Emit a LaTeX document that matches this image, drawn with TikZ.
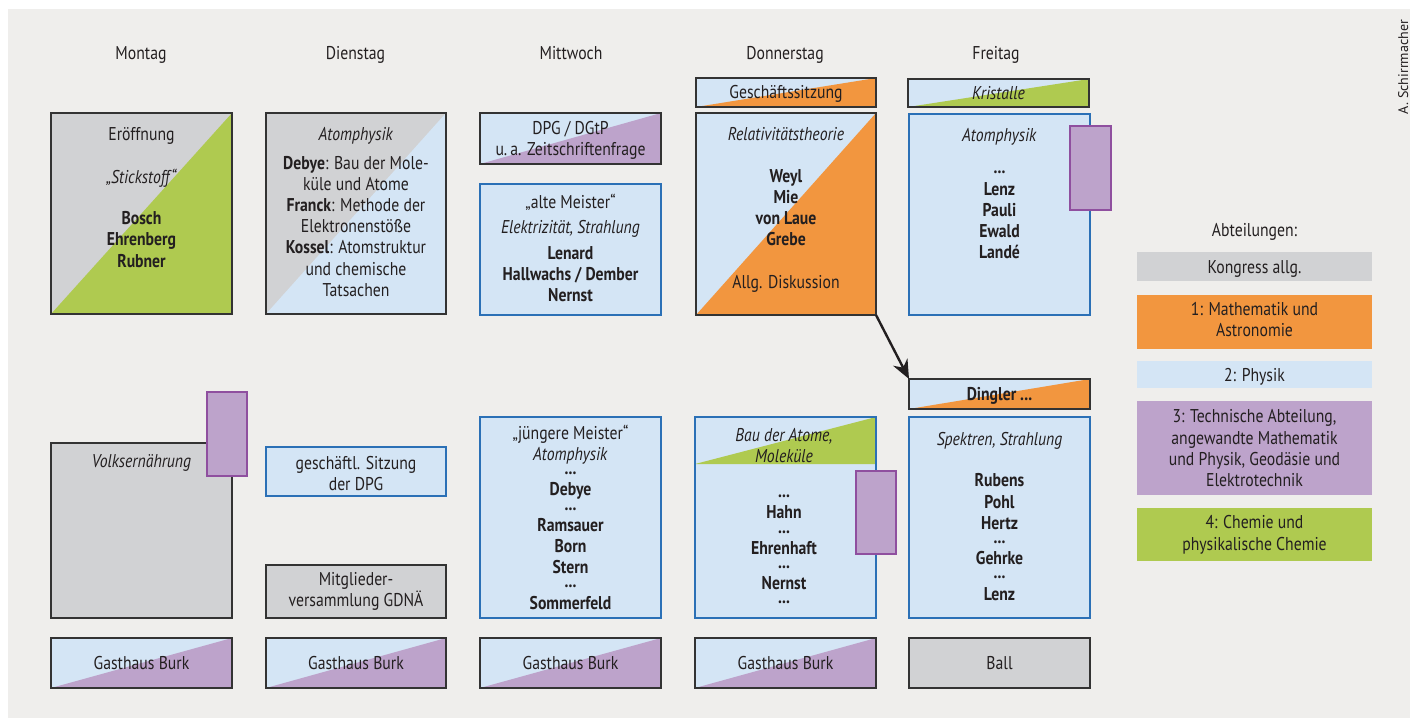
\documentclass[tikz,border=0pt]{standalone}
\usepackage{fontspec}
\setmainfont{PT Sans}[FakeStretch=0.85]
\newfontfamily\creditfont{PT Sans}
\usetikzlibrary{arrows.meta}

\definecolor{bgpanel}{HTML}{EFEEEC}
\definecolor{cgray}{HTML}{D1D2D4}
\definecolor{cgreen}{HTML}{AFCA50}
\definecolor{corange}{HTML}{F2963F}
\definecolor{cblue}{HTML}{D4E5F5}
\definecolor{cpurple}{HTML}{BDA3CB}
\definecolor{cblueline}{HTML}{2B70B6}
\definecolor{cpurpleline}{HTML}{8F4F9F}
\definecolor{cdark}{HTML}{333333}
\definecolor{ctext}{HTML}{231F20}

% fixes the height of the first line of a text block
\newcommand\lnstrut{\rule{0pt}{19pt}}

\tikzset{
  sz/.style n args={2}{minimum width=#1pt, minimum height=#2pt},
  box/.style={draw=cdark, line width=1.5pt, anchor=north west, inner sep=0pt, outer sep=0pt},
  bluebox/.style={box, draw=cblueline, fill=cblue},
  legbox/.style={anchor=north west, inner sep=0pt, outer sep=0pt},
  tagbox/.style={fill=cpurple, draw=cpurpleline, line width=1.3pt, anchor=north west, inner sep=0pt, outer sep=0pt},
  split/.style={path picture={\fill[#1] (path picture bounding box.south west) -- (path picture bounding box.north east) |- cycle;}},
  txt/.style={align=center, inner sep=0pt, text=ctext, font=\fontsize{18.5}{21.2}\selectfont},
  lines/.style={txt, anchor=north},
  one/.style={txt, anchor=base},
}

\begin{document}
\begin{tikzpicture}[x=1pt, y=-1pt]
\useasboundingbox (0,0) rectangle (1410,718);
\fill[white] (0,0) rectangle (1410,718);
\fill[bgpanel] (8,9) rectangle (1410,718);

% day headings
\node[one] (hmo) at (141,59) {Montag};
\node[one] (hdi) at (355.5,59) {Dienstag};
\node[one] (hmi) at (571,59) {Mittwoch};
\node[one] (hdo) at (785,59) {Donnerstag};
\node[one] (hfr) at (996,59) {Freitag};

% Montag
\node[box, fill=cgray, split=cgreen, sz={181}{201}] (mo1) at (51,113) {};
\node[lines] (mo1t) at (141.5,121) {\lnstrut Eröffnung\\[22.5pt]\textit{„Stickstoff“}\\[19.5pt]\textbf{Bosch}\\\textbf{Ehrenberg}\\\textbf{Rubner}};
\node[box, fill=cgray, sz={181}{175}] (mo2) at (51,443) {};
\node[lines] (mo2t) at (141.5,448) {\lnstrut\textit{Volksernährung}};
\node[tagbox, sz={40}{84}] (mo2tag) at (207,392) {};
\node[box, fill=cblue, split=cpurple, sz={181}{50}] (mo3) at (51,638) {};
\node[one] (mo3t) at (141.5,669) {Gasthaus Burk};

% Dienstag
\node[box, fill=cgray, split=cblue, sz={180}{201}] (di1) at (266,113) {};
\node[lines] (di1t) at (356,121) {\lnstrut\textit{Atomphysik}\\[7.7pt]\textbf{Debye}: Bau der Mole-\\küle und Atome\\\textbf{Franck}: Methode der\\Elektronenstöße\\\textbf{Kossel}: Atomstruktur\\und chemische\\Tatsachen};
\node[bluebox, sz={180}{49}] (di2) at (266,447) {};
\node[lines] (di2t) at (356,450) {\lnstrut geschäftl. Sitzung\\der DPG};
\node[box, fill=cgray, sz={180}{53}] (di3) at (266,565) {};
\node[lines] (di3t) at (356,566) {\lnstrut Mitglieder-\\versammlung GDNÄ};
\node[box, fill=cblue, split=cpurple, sz={180}{50}] (di4) at (266,638) {};
\node[one] (di4t) at (356,669) {Gasthaus Burk};

% Mittwoch
\node[box, fill=cblue, split=cpurple, sz={181}{51}] (mi1) at (480,113) {};
\node[lines] (mi1t) at (570.5,115) {\lnstrut DPG / DGtP\\u.\,a. Zeitschriftenfrage};
\node[bluebox, sz={181}{131}] (mi2) at (480,184) {};
\node[lines] (mi2t) at (570.5,189) {\lnstrut„alte Meister“\\[3.7pt]\textit{Elektrizität, Strahlung}\\[4.7pt]\textbf{Lenard}\\\textbf{Hallwachs / Dember}\\\textbf{Nernst}};
\node[bluebox, sz={181}{201}] (mi3) at (480,417) {};
\node[lines] (mi3t) at (570.5,420) {\lnstrut„jüngere Meister“\\\textit{Atomphysik}\\[-7pt]\textbf{...}\\\textbf{Debye}\\[-7pt]\textbf{...}\\\textbf{Ramsauer}\\\textbf{Born}\\\textbf{Stern}\\[-7pt]\textbf{...}\\\textbf{Sommerfeld}};
\node[box, fill=cblue, split=cpurple, sz={181}{50}] (mi4) at (480,638) {};
\node[one] (mi4t) at (570.5,669) {Gasthaus Burk};

% Donnerstag
\node[box, fill=cblue, split=corange, sz={180}{29}] (do0) at (696,78) {};
\node[one] (do0t) at (786,98) {Geschäftssitzung};
\node[box, fill=cblue, split=corange, sz={180}{202}] (do1) at (696,113) {};
\node[lines] (do1t) at (786,121) {\lnstrut\textit{Relativitätstheorie}\\[20.7pt]\textbf{Weyl}\\\textbf{Mie}\\\textbf{von Laue}\\\textbf{Grebe}\\[21.7pt]Allg. Diskussion};
\node[bluebox, sz={181}{201},
  path picture={\fill[cgreen] ([yshift=-47pt]path picture bounding box.north west) -- (path picture bounding box.north east) -- ([yshift=-47pt]path picture bounding box.north east) -- cycle;}] (do2) at (695,417) {};
\node[lines] (do2t) at (784,422) {\lnstrut\textit{Bau der Atome,}\\\textit{Moleküle}\\[14pt]\textbf{...}\\\textbf{Hahn}\\[-7pt]\textbf{...}\\\textbf{Ehrenhaft}\\[-7pt]\textbf{...}\\\textbf{Nernst}\\[-7pt]\textbf{...}};
\node[tagbox, sz={40}{83}] (do2tag) at (856,471) {};
\node[box, fill=cblue, split=cpurple, sz={181}{50}] (do3) at (695,638) {};
\node[one] (do3t) at (785.5,669) {Gasthaus Burk};

% Freitag
\node[box, fill=cblue, split=cgreen, sz={181}{28}] (fr0) at (908,79) {};
\node[one] (fr0t) at (998.5,99) {\textit{Kristalle}};
\node[bluebox, sz={181}{201}] (fr1) at (909,114) {};
\node[lines] (fr1t) at (999.5,122) {\lnstrut\textit{Atomphysik}\\[11.4pt]\textbf{...}\\\textbf{Lenz}\\\textbf{Pauli}\\\textbf{Ewald}\\\textbf{Landé}};
\node[tagbox, sz={41}{84}] (fr1tag) at (1070,126) {};
\node[box, fill=cblue, split=corange, sz={181}{30}] (fr2) at (909,379) {};
\node[one] (fr2t) at (999.5,400) {\textbf{Dingler ...}};
\node[bluebox, sz={181}{201}] (fr3) at (909,417) {};
\node[lines] (fr3t) at (999.5,426) {\lnstrut\textit{Spektren, Strahlung}\\[20.4pt]\textbf{Rubens}\\\textbf{Pohl}\\\textbf{Hertz}\\[-7pt]\textbf{...}\\\textbf{Gehrke}\\[-7pt]\textbf{...}\\\textbf{Lenz}};
\node[box, fill=cgray, sz={181}{50}] (fr4) at (909,638) {};
\node[one] (fr4t) at (999.5,669) {Ball};

% the discussion continues in the Friday session
\draw[-{Stealth[length=19pt,width=16pt]}, line width=2.4pt, draw=ctext] (do1.south east) -- (fr2.north west);

% legend of the sections
\node[one] (lgh) at (1254.5,236) {Abteilungen:};
\node[legbox, fill=cgray, sz={235}{29}] (lg0) at (1137,252) {};
\node[one] (lg0t) at (1254.5,273) {Kongress allg.};
\node[legbox, fill=corange, sz={235}{54}] (lg1) at (1137,295) {};
\node[lines] (lg1t) at (1254.5,296) {\lnstrut 1: Mathematik und\\Astronomie};
\node[legbox, fill=cblue, sz={235}{27}] (lg2) at (1137,361) {};
\node[one] (lg2t) at (1254.5,381) {2: Physik};
\node[legbox, fill=cpurple, sz={235}{94}] (lg3) at (1137,401) {};
\node[lines] (lg3t) at (1254.5,403.7) {\lnstrut 3: Technische Abteilung,\\angewandte Mathematik\\und Physik, Geodäsie und\\Elektrotechnik};
\node[legbox, fill=cgreen, sz={235}{53}] (lg4) at (1137,508) {};
\node[lines] (lg4t) at (1254.5,509.7) {\lnstrut 4: Chemie und\\physikalische Chemie};

% author credit
\node[rotate=90, anchor=base, inner sep=0pt, text=ctext, font=\creditfont\fontsize{14}{16}\selectfont] (credit) at (1408,67) {A. Schirrmacher};
\end{tikzpicture}
\end{document}
